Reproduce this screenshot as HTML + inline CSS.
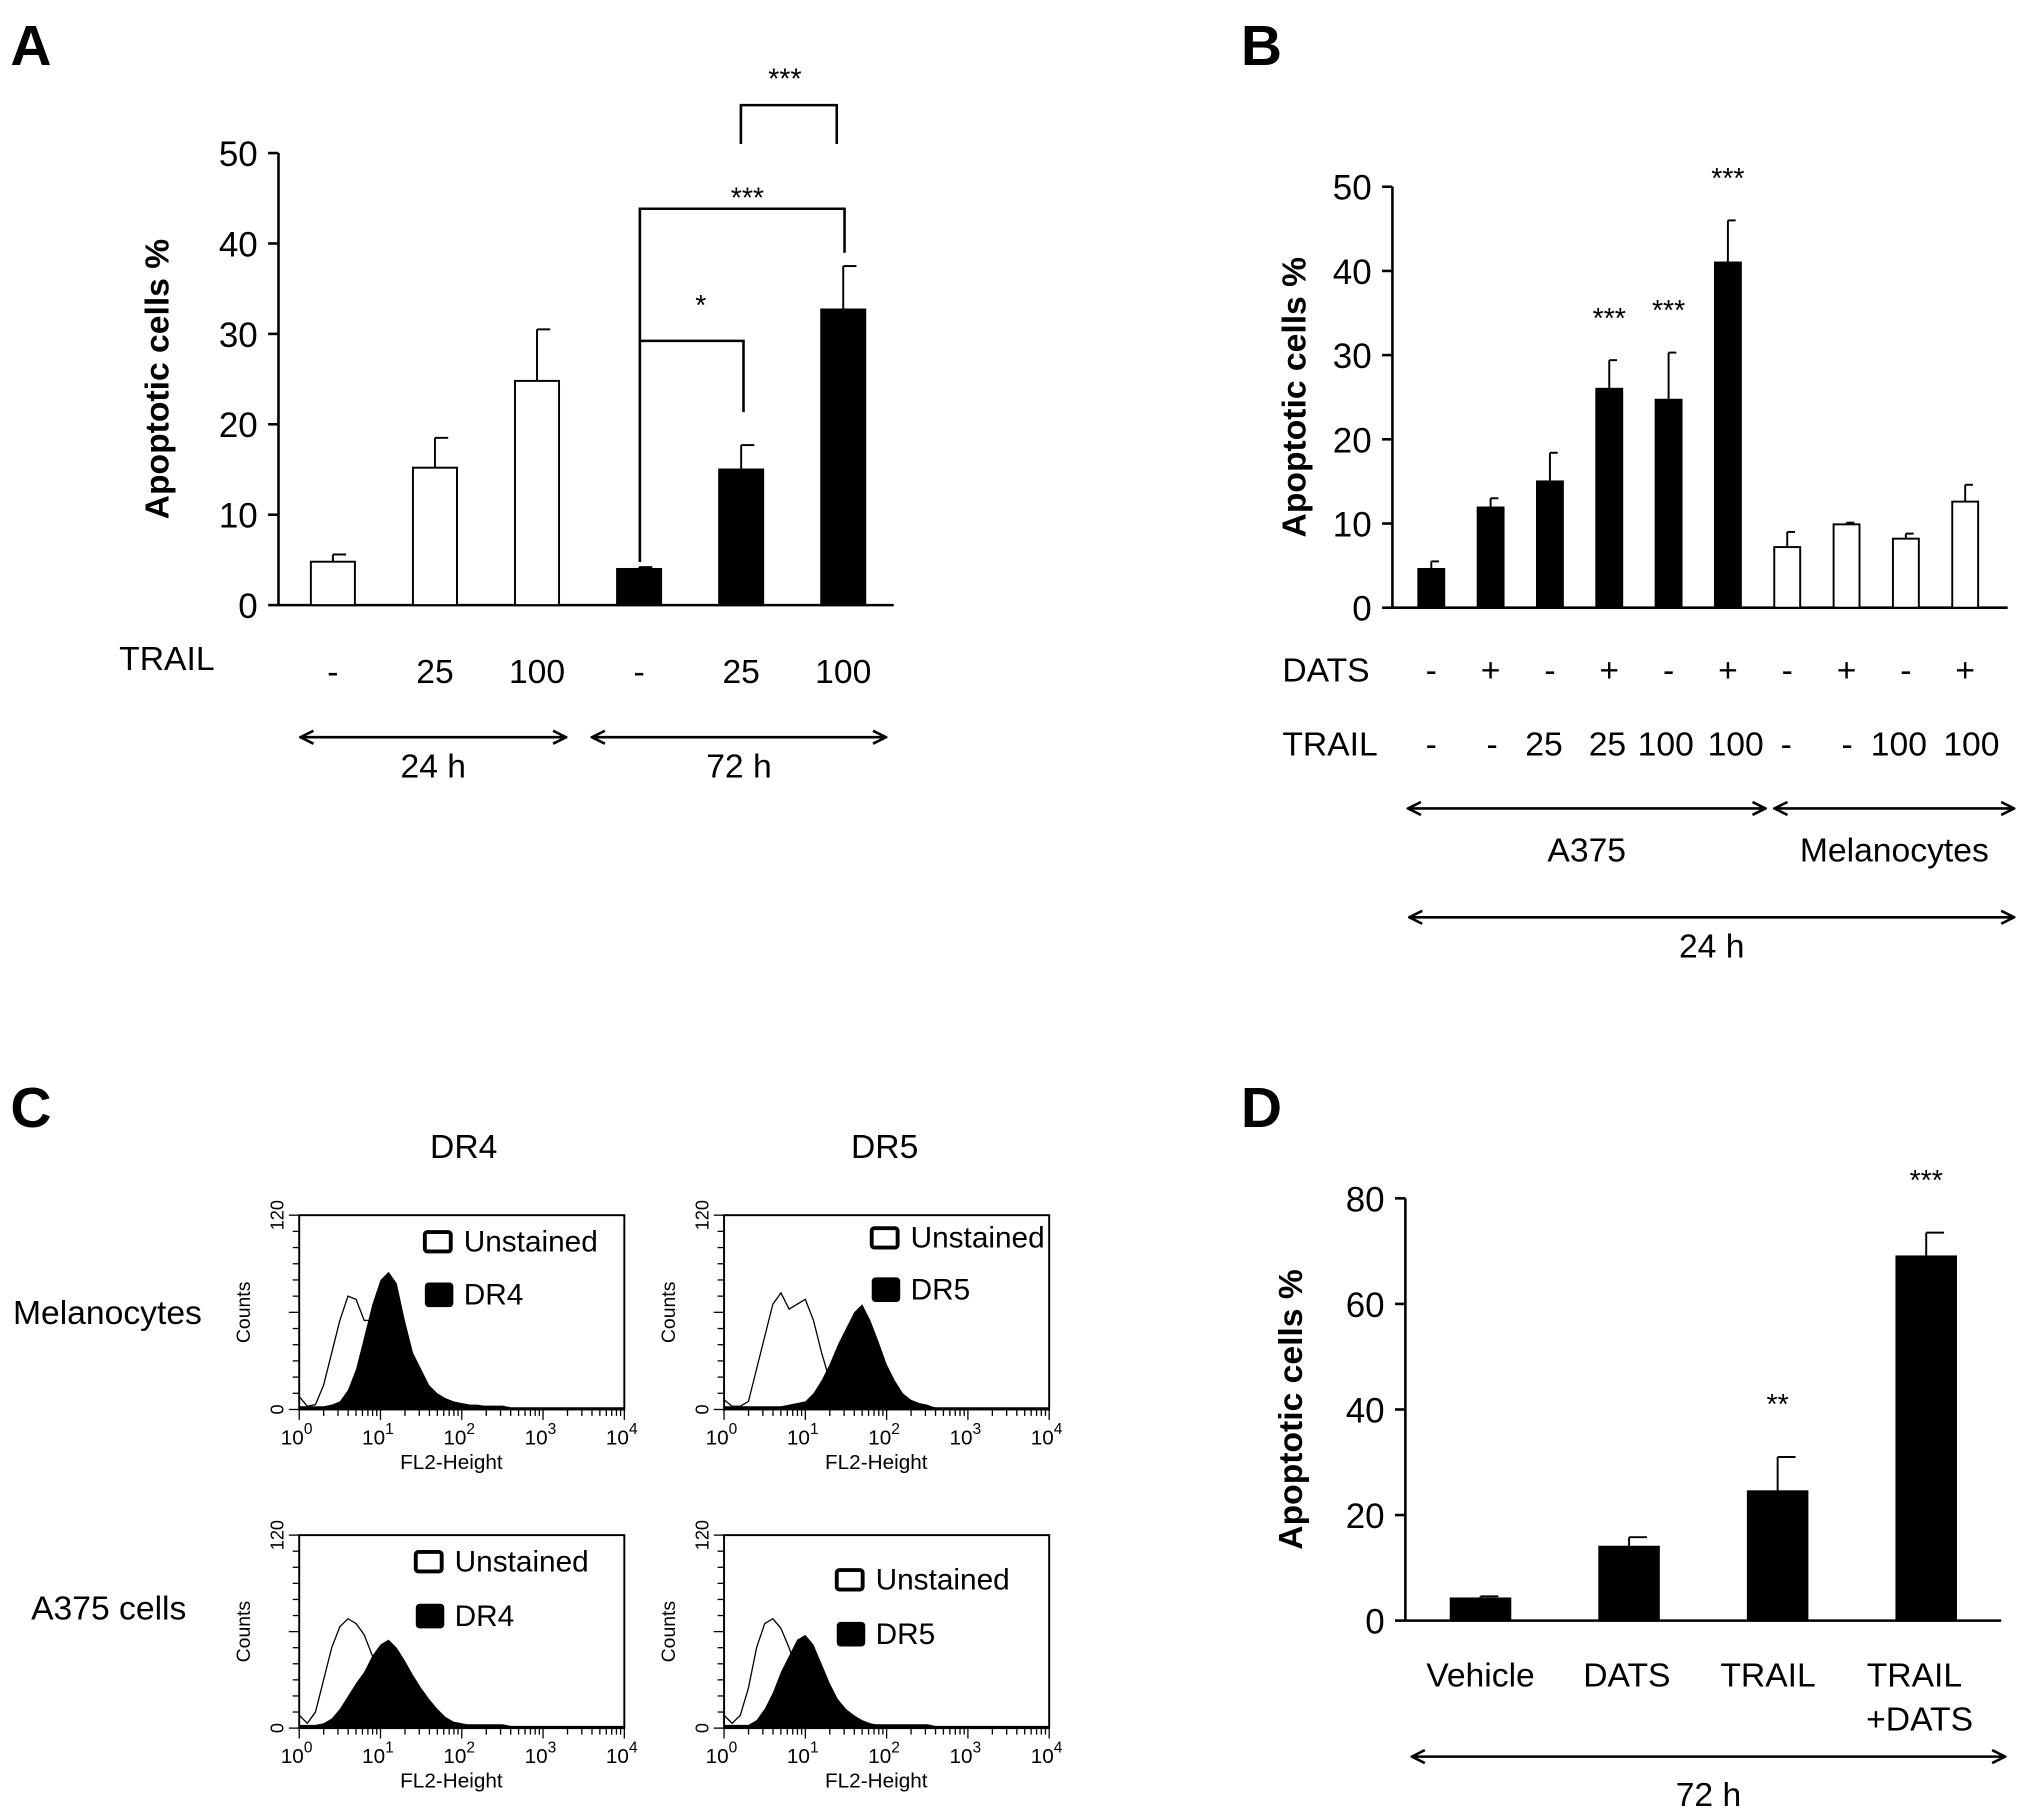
<!DOCTYPE html>
<html><head><meta charset="utf-8"><style>
html,body{margin:0;padding:0;background:#fff}
svg{display:block}
text{font-family:"Liberation Sans",Arial,sans-serif;fill:#000}
</style></head><body>
<svg id="fig" width="2031" height="1819" viewBox="0 0 1568 1404" xmlns="http://www.w3.org/2000/svg">
<defs>
<marker id="ah" viewBox="0 0 12 12" refX="11" refY="6" markerWidth="12" markerHeight="12" orient="auto-start-reverse" markerUnits="userSpaceOnUse"><path d="M1,1 L11,6 L1,11" fill="none" stroke="#000" stroke-width="2"/></marker>
</defs>
<g id="root"></g>
</svg>
<script>
// Panel A data
const aLabels = ['-', '25', '100', '-', '25', '100'];
const aValues = [4.8, 15.2, 24.8, 4.0, 15.0, 32.7];
const aErrors = [0.8, 3.3, 5.7, 0.2, 2.7, 4.8];
const aFilled = [0, 0, 0, 1, 1, 1];
const aTicks = [0, 10, 20, 30, 40, 50];
// Panel B data
const bDats = ['-', '+', '-', '+', '-', '+', '-', '+', '-', '+'];
const bTrail = ['-', '-', '25', '25', '100', '100', '-', '-', '100', '100'];
const bValues = [4.6, 11.9, 15.0, 26.0, 24.7, 41.0, 7.2, 9.9, 8.2, 12.6];
const bErrors = [0.9, 1.1, 3.4, 3.4, 5.6, 5.0, 1.8, 0.2, 0.6, 2.0];
const bFilled = [1, 1, 1, 1, 1, 1, 0, 0, 0, 0];
const bStars = ['', '', '', '***', '***', '***', '', '', '', ''];
const bTicks = [0, 10, 20, 30, 40, 50];
// Panel D data
const dLabels = ['Vehicle', 'DATS', 'TRAIL', 'TRAIL'];
const dValues = [4.2, 14.0, 24.5, 69.0];
const dErrors = [0.4, 1.8, 6.5, 4.5];
const dStars = ['', '', '**', '***'];
const dTicks = [0, 20, 40, 60, 80];
// Panel C histogram counts (bins every 0.1 log decade, starting at 10^0)
const melUnst4 = [8,2,3,15,35,55,70,68,55,55,45,30,18,10,5,3,2,2,2,2,2,2,2,2,2,2];
const melDR4 = [2,2,2,2,3,5,12,25,45,65,80,85,78,55,35,25,15,10,7,5,4,3,3,2,2,2];
const melUnst5 = [6,2,2,5,25,45,65,72,62,65,68,55,35,18,8,4,3,2,2,2,2,2,2,2,2,2];
const melDR5 = [2,2,2,2,2,2,2,2,3,4,5,10,18,28,40,50,60,65,55,42,28,18,10,6,4,3];
const aUnst4 = [8,3,10,30,50,63,68,65,58,45,30,18,10,5,3,2,2,2,2,2,2,2,2,2,2,2];
const aDR4 = [2,2,2,3,6,12,20,28,35,45,52,55,50,42,33,25,18,12,7,4,3,2,2,2,2,2];
const aUnst5 = [8,3,8,25,50,65,68,62,50,35,22,12,6,3,2,2,2,2,2,2,2,2,2,2,2,2];
const aDR5 = [2,2,2,2,5,12,22,35,45,55,58,52,40,28,18,12,8,5,3,2,2,2,2,2,2,2];

const NS='http://www.w3.org/2000/svg';
const root=document.getElementById('root');
function mk(tag,attrs,parent){const e=document.createElementNS(NS,tag);for(const k in attrs)e.setAttribute(k,attrs[k]);(parent||root).appendChild(e);return e;}
function txt(x,y,s,size,anchor,weight,parent){const t=mk('text',{x:x,y:y,'font-size':size,'text-anchor':anchor||'middle','font-weight':weight||'normal'},parent);t.textContent=s;return t;}
function line(x1,y1,x2,y2,w,parent){return mk('line',{x1,y1,x2,y2,stroke:'#000','stroke-width':w||2},parent);}

function barChart(opt){
  const g=mk('g',{});
  
  
  const y=v=>opt.y0-(v/opt.max)*(opt.y0-opt.yTop);
  line(opt.ax,opt.yTop,opt.ax,opt.y0,2,g);
  line(opt.ax,opt.y0,opt.axEnd,opt.y0,2,g);
  opt.ticks.forEach(t=>{
    line(opt.ax-8,y(t),opt.ax,y(t),2,g);
    const tl=txt(opt.ax-16,y(t)+10,String(t),27,'end','normal',g);
    
    
  });
  opt.values.forEach((v,i)=>{
    const cx=opt.x0+i*opt.step;
    const top=y(v), et=y(v+opt.errors[i]);
    line(cx,et,cx,top,1.5,g);
    line(cx,et,cx+opt.bw*0.3,et,1.5,g);
    const r=mk('rect',{x:cx-opt.bw/2,y:top,width:opt.bw,height:opt.y0-top,fill:opt.filled[i]?'#000':'#fff',stroke:'#000','stroke-width':1.5},g);
    
    
    if(opt.stars&&opt.stars[i]){
      const s=txt(cx,et-opt.starOff,opt.stars[i],22,'middle','normal',g);
      
      
    }
  });
  const yt=txt(0,0,'Apoptotic cells %',26,'middle','bold',g);
  yt.setAttribute('transform','translate('+opt.titleX+','+((opt.y0+opt.yTop)/2)+') rotate(-90)');
  
  
  return {g,y};
}
function arrow(x1,x2,yy,label,ly,name){
  const l=mk('line',{x1:x1,y1:yy,x2:x2,y2:yy,stroke:'#000','stroke-width':2,'marker-start':'url(#ah)','marker-end':'url(#ah)'});
  
  
  const t=txt((x1+x2)/2,ly,label,26);
  
  
}
function letter(x,y,s){const t=txt(x,y,s,44,'start','bold');}

// Panel A
letter(8,50,'A');
const A=barChart({name:'panel-a-chart',ax:215,axEnd:690,y0:467,yTop:118,max:50,ticks:aTicks,values:aValues,errors:aErrors,filled:aFilled,x0:257,step:78.8,bw:34,titleX:130,starOff:12});
let t=txt(92,517,'TRAIL',26,'start');
aLabels.forEach((s,i)=>{const e=txt(257+i*78.8,527,s,26);});
// brackets
mk('polyline',{points:'572,111 572,81 646,81 646,111',fill:'none',stroke:'#000','stroke-width':2});
txt(606,68,'***',22);
mk('polyline',{points:'494,'+(A.y(4.2)-4)+' 494,161 652,161 652,195',fill:'none',stroke:'#000','stroke-width':2});
txt(577,160,'***',22);
mk('polyline',{points:'494,263 574,263 574,318',fill:'none',stroke:'#000','stroke-width':2});
txt(541,243,'*',22);
arrow(232,437,569,'24 h',600,'24h');
arrow(457,684,569,'72 h',600,'72h');

// Panel B
letter(958,50,'B');
barChart({name:'panel-b-chart',ax:1075,axEnd:1550,y0:469,yTop:144,max:50,ticks:bTicks,values:bValues,errors:bErrors,filled:bFilled,stars:bStars,x0:1105,step:45.8,bw:20,titleX:1008,starOff:25});
t=txt(990,526,'DATS',26,'start');
t=txt(990,583,'TRAIL',26,'start');
bDats.forEach((s,i)=>{const e=txt(1105+i*45.8,526,s,26);});
const bTx=[1105,1152,1192,1241,1286,1340,1379,1426,1466,1522];
bTrail.forEach((s,i)=>{const e=txt(bTx[i],583,s,26);});
arrow(1087,1363,624,'A375',665,'a375');
arrow(1370,1555,624,'Melanocytes',665,'melanocytes');
arrow(1088,1555,708,'24 h',739,'24h-b');

// Panel D
letter(958,870,'D');
barChart({name:'panel-d-chart',ax:1085,axEnd:1545,y0:1251,yTop:925,max:80,ticks:dTicks,values:dValues,errors:dErrors,filled:[1,1,1,1],stars:dStars,x0:1143,step:114.7,bw:46,titleX:1005,starOff:33});
const dTx=[1143,1256,1365,1478];
dLabels.forEach((s,i)=>{const e=txt(dTx[i],1302,s,26);});
t=txt(1482,1336,'+DATS',26);
arrow(1090,1548,1356,'72 h',1394,'72h-d');

// Panel C
letter(8,870,'C');
t=txt(358,894,'DR4',26);
t=txt(683,894,'DR5',26);
t=txt(10,1022,'Melanocytes',26,'start');
t=txt(24,1250,'A375 cells',26,'start');

function hist(x0,y0,w,h,unst,filled,lab,legY1,legY2,legX,name){
  const g=mk('g',{});
  
  
  const X=d=>x0+d/4*w, Y=c=>y0+h-c/120*h;
  const pts=arr=>arr.map((c,i)=>X(i*0.1)+','+Y(c)).concat([X(2.6)+','+Y(1),X(4)+','+Y(1)]);
  const f=mk('polygon',{points:[X(0)+','+Y(0)].concat(pts(filled)).concat([X(4)+','+Y(0)]).join(' '),fill:'#000'},g);
  
  
  const u=mk('polyline',{points:pts(unst).join(' '),fill:'none',stroke:'#000','stroke-width':1},g);
  
  
  mk('rect',{x:x0,y:y0,width:w,height:h,fill:'none',stroke:'#000','stroke-width':1.5},g);
  for(let d=0;d<4;d++){for(let k=1;k<10;k++){const xx=X(d+Math.log10(k));line(xx,y0+h,xx,y0+h+(k==1?8:5),1,g);}}
  line(X(4),y0+h,X(4),y0+h+8,1,g);
  for(let c=0;c<=120;c+=10){line(x0-(c%60==0?8:5),Y(c),x0,Y(c),1,g);}
  for(let d=0;d<=4;d++){
    const tt=mk('text',{x:X(d)-2,y:y0+h+27,'font-size':16,'text-anchor':'middle'},g);tt.textContent='10';
    const sp=mk('tspan',{dy:-8,'font-size':12},tt);sp.textContent=String(d);
  }
  const xl=txt(x0+w/2-8,y0+h+46,'FL2-Height',16,'middle','normal',g);
  
  const yl=txt(0,0,'Counts',15,'middle','normal',g);
  yl.setAttribute('transform','translate('+(x0-38)+','+(y0+h/2)+') rotate(-90)');
  
  const y120=txt(0,0,'120',14,'middle','normal',g);y120.setAttribute('transform','translate('+(x0-12)+','+y0+') rotate(-90)');
  const y0t=txt(0,0,'0',14,'middle','normal',g);y0t.setAttribute('transform','translate('+(x0-12)+','+(y0+h)+') rotate(-90)');
  mk('rect',{x:legX,y:legY1-15,width:20,height:15,fill:'#fff',stroke:'#000','stroke-width':3,rx:2},g);
  txt(legX+30,legY1,'Unstained',23,'start','normal',g);
  mk('rect',{x:legX,y:legY2-17,width:22,height:19,fill:'#000',rx:3},g);
  txt(legX+30,legY2,lab,23,'start','normal',g);
}
hist(231,938,251,150,melUnst4,melDR4,'DR4',966,1007,328,'histogram-melanocytes-dr4');
hist(559,938,251,150,melUnst5,melDR5,'DR5',963,1003,673,'histogram-melanocytes-dr5');
hist(231,1185,251,149,aUnst4,aDR4,'DR4',1213,1255,321,'histogram-a375-dr4');
hist(559,1185,251,149,aUnst5,aDR5,'DR5',1227,1269,646,'histogram-a375-dr5');
</script>
</body></html>
